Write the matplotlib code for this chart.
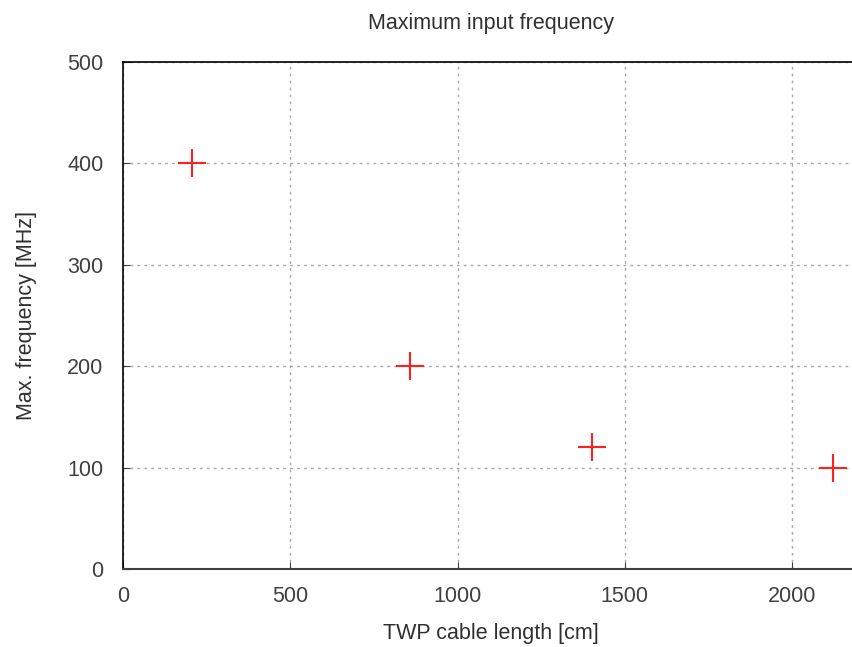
import matplotlib
matplotlib.use("Agg")
import matplotlib.pyplot as plt

plt.rcParams['font.family'] = ['Liberation Sans', 'DejaVu Sans']

# data
cable_length = [205, 857, 1402, 2123]
max_freq = [400, 200, 120, 100]

x_ticks = [0, 500, 1000, 1500, 2000]
y_ticks = [0, 100, 200, 300, 400, 500]

fig = plt.figure(figsize=(8.52, 6.47), dpi=100)
ax = fig.add_axes([123 / 852, 78 / 647, 736 / 852, 507 / 647])

ax.plot(cable_length, max_freq, linestyle='none', marker='+', color='#ff2020',
        markersize=20, markeredgewidth=1.5, clip_on=False, zorder=3)

ax.set_xlim(0, 2200)
ax.set_ylim(0, 500)
ax.set_xticks(x_ticks)
ax.set_yticks(y_ticks)
ax.tick_params(direction='in', length=5, labelsize=15.5, colors='#404040')
ax.tick_params(axis='x', pad=12)
ax.tick_params(axis='y', pad=14)
ax.grid(True, linestyle=(0, (2, 3)), color='#a8a8a8', linewidth=1)
ax.set_axisbelow(True)

for side in ['left', 'top']:
    ax.spines[side].set_color('black')
    ax.spines[side].set_linewidth(1.2)
ax.spines['bottom'].set_color('#404040')
ax.spines['bottom'].set_linewidth(1.5)
ax.spines['right'].set_visible(False)

ax.set_title('Maximum input frequency', fontsize=15.5, color='#303030', pad=24)
ax.set_xlabel('TWP cable length [cm]', fontsize=15.5, color='#303030', labelpad=12)
ax.set_ylabel('Max. frequency [MHz]', fontsize=15.5, color='#303030', labelpad=22)

fig.savefig('out.png', dpi=100)
